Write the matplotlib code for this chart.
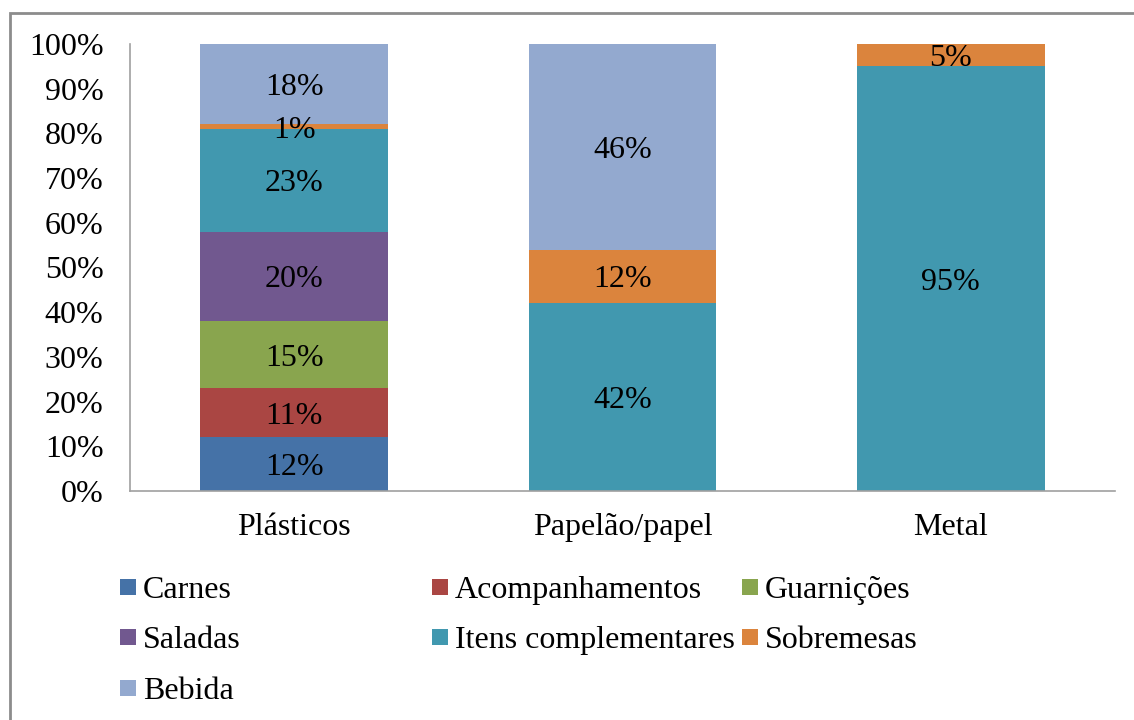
import matplotlib
matplotlib.use("Agg")
import matplotlib.pyplot as plt
from matplotlib.patches import Rectangle
import numpy as np

plt.rcParams['font.family'] = ['Liberation Serif', 'DejaVu Serif']

categories = ["Plásticos", "Papelão/papel", "Metal"]
series_names = ["Carnes", "Acompanhamentos", "Guarnições", "Saladas",
                "Itens complementares", "Sobremesas", "Bebida"]
carnes = [12, 0, 0]
acompanhamentos = [11, 0, 0]
guarnicoes = [15, 0, 0]
saladas = [20, 0, 0]
itens_complementares = [23, 42, 95]
sobremesas = [1, 12, 5]
bebida = [18, 46, 0]
y_ticks = list(range(0, 101, 10))

series_values = [carnes, acompanhamentos, guarnicoes, saladas,
                 itens_complementares, sobremesas, bebida]
colors = ["#4572A7", "#AA4643", "#89A54E", "#71588F",
          "#4198AF", "#DB843D", "#93A9CF"]

W, H = 1134, 720
fig = plt.figure(figsize=(W / 100, H / 100), dpi=100)
fig.patch.set_facecolor("white")

# outer frame of the chart area
fig.add_artist(Rectangle((10 / W, -0.1), 1.2, (1 - 13 / H) + 0.1,
                         transform=fig.transFigure, fill=False,
                         edgecolor="#8c8c8c", linewidth=2))

ax = fig.add_axes([130 / W, 1 - 491 / H, (1115 - 130) / W, (491 - 44) / H])

x = np.arange(len(categories))
bottom = np.zeros(len(categories))
fs = 23
for name, vals, col in zip(series_names, series_values, colors):
    vals = np.array(vals, dtype=float)
    ax.bar(x, vals, width=0.572, bottom=bottom, color=col, label=name,
           linewidth=0)
    for xi, v, b in zip(x, vals, bottom):
        if v > 0:
            ax.text(xi, b + v / 2, f"{int(v)}%", ha="center",
                    va="center_baseline", fontsize=fs, color="black")
    bottom += vals

ax.set_xlim(-0.5, 2.5)
ax.set_ylim(0, 100)
ax.set_yticks(y_ticks)
ax.set_yticklabels([f"{t}%" for t in y_ticks])
ax.set_xticks(x)
ax.set_xticklabels(categories)
ax.tick_params(axis="both", length=0, labelsize=fs)
ax.tick_params(axis="y", pad=19)
ax.tick_params(axis="x", pad=16)
for s in ["top", "right"]:
    ax.spines[s].set_visible(False)
for s in ["left", "bottom"]:
    ax.spines[s].set_color("#a0a0a0")
    ax.spines[s].set_linewidth(1.2)

# legend laid out in three fixed-width columns
legend_pos = [(120, 587), (432, 587), (742, 587),
              (120, 637), (432, 637), (742, 637),
              (120, 688)]
for (px, py), name, col in zip(legend_pos, series_names, colors):
    fig.add_artist(Rectangle((px / W, 1 - (py + 8) / H), 16 / W, 16 / H,
                             transform=fig.transFigure, facecolor=col,
                             edgecolor="none"))
    fig.text((px + 23) / W, 1 - py / H, name, ha="left",
             va="center_baseline", fontsize=fs, color="black")

fig.savefig("out.png", dpi=100, facecolor="white")
